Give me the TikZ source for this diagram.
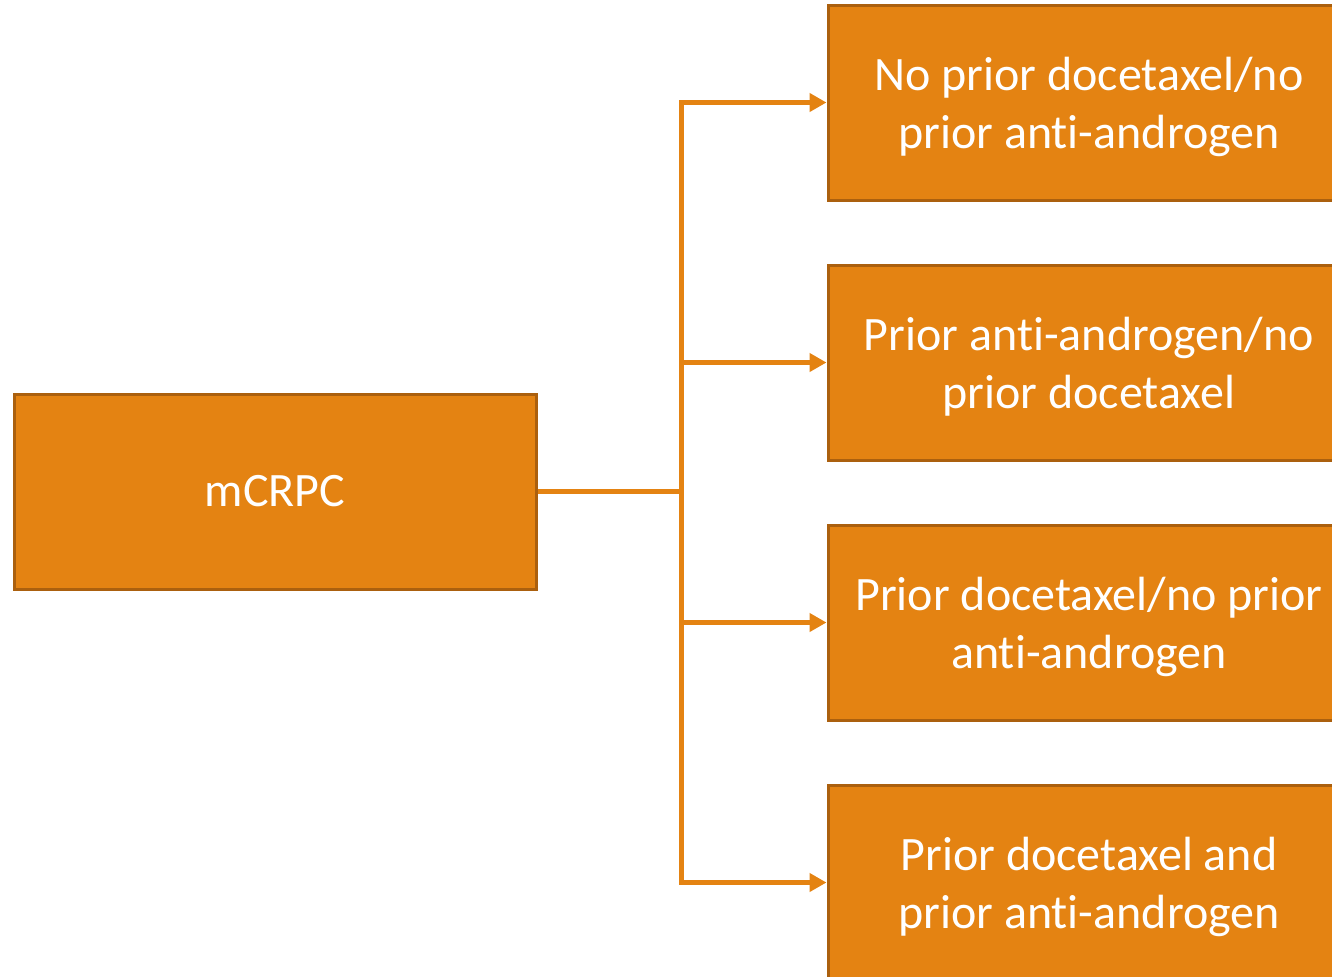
\documentclass[tikz,border=0pt]{standalone}
\usepackage{fontspec}
\setmainfont{Carlito}[Ligatures={NoCommon,NoRequired,NoContextual,NoRare}]
\usetikzlibrary{positioning,arrows.meta}
\definecolor{orfond}{RGB}{228,131,18}
\definecolor{orbord}{RGB}{171,96,14}
\begin{document}
\begin{tikzpicture}[x=0.75pt,y=-0.75pt,
  boite/.style={draw=orbord,fill=orfond,line width=2.25pt,text=white,align=center,
    minimum width=391.5pt,minimum height=146.25pt,inner sep=0pt,
    font=\fontsize{36}{43.5}\selectfont},
  cible/.style={boite,text depth=0pt},
  fleche/.style={draw=orfond,line width=3.75pt,-{Triangle[length=12.75pt,width=13.5pt]}},
  trait/.style={draw=orfond,line width=3.75pt}]
\useasboundingbox (0,0) rectangle (1332,976);
\clip (0,0) rectangle (1332,976);
\node[boite] (mcrpc) at (275,491.5) {mCRPC};
\node[cible] (b1) at (1089,102.5) {No prior docetaxel/no\\prior anti-androgen};
\node[cible,below=46.5pt of b1] (b2) {Prior anti-androgen/no\\prior docetaxel};
\node[cible,below=46.5pt of b2] (b3) {Prior docetaxel/no prior\\anti-androgen};
\node[cible,below=46.5pt of b3] (b4) {Prior docetaxel and\\prior anti-androgen};
\coordinate (split) at (681,491.5);
\draw[trait] (mcrpc.east) -- (split);
\draw[fleche] (split) |- (b1.west);
\draw[fleche] (split) |- (b2.west);
\draw[fleche] (split) |- (b3.west);
\draw[fleche] (split) |- (b4.west);
\end{tikzpicture}
\end{document}
